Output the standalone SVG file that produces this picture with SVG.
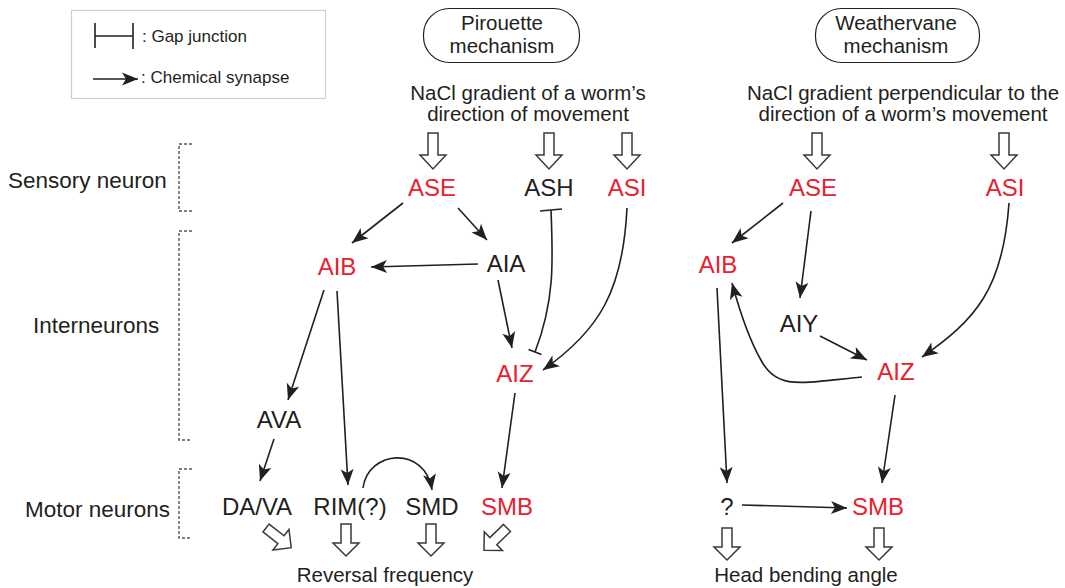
<svg xmlns="http://www.w3.org/2000/svg" width="1065" height="588" viewBox="0 0 1065 588">
<style>
text{font-family:"Liberation Sans",Arial,sans-serif;fill:#231f20}
.n{font-size:24px;text-anchor:middle}
.r{fill:#e8202f}
.m{font-size:20.5px;text-anchor:middle}
.lab{font-size:22.5px}
.lg{font-size:17px}
.c{fill:none;stroke:#231f20;stroke-width:1.6}
.ca{fill:none;stroke:#231f20;stroke-width:1.6;marker-end:url(#ah)}
.h{fill:#fff;stroke:#3a3a3a;stroke-width:1.5;stroke-linejoin:miter}
.br{fill:none;stroke:#555;stroke-width:1.4;stroke-dasharray:3 2}
</style>
<defs>
<marker id="ah" markerUnits="userSpaceOnUse" viewBox="-17 -8 18 16" refX="0" refY="0" markerWidth="18" markerHeight="16" orient="auto">
<path d="M0,0 L-16,-6.5 L-12,0 L-16,6.5 Z" fill="#231f20"/>
</marker>
<path id="ht" class="h" d="M-5,0 H5 V22 H13 L0,36 L-13,22 H-5 Z"/>
<path id="hb" class="h" d="M-5,0 H5 V19 H13 L0,32 L-13,19 H-5 Z"/>
</defs>

<g id="legend">
<rect x="71.5" y="10.5" width="254" height="88" fill="#fff" stroke="#cfcfcf" stroke-width="1.2"/>
<path d="M95,23 V48 M95,36 H133 M133,23 V49" class="c"/>
<text class="lg" x="142" y="42">: Gap junction</text>
<path d="M93,79 H138" class="ca"/>
<text class="lg" x="141" y="83">: Chemical synapse</text>
</g>

<g id="pirouette-title">
<rect x="423.5" y="8.5" width="156" height="54" rx="26" ry="26" fill="#fff" stroke="#231f20" stroke-width="1.2"/>
<text class="m" x="502" y="30">Pirouette</text>
<text class="m" x="502" y="53">mechanism</text>
</g>
<g id="weathervane-title">
<rect x="815.5" y="8.5" width="164" height="54" rx="26" ry="26" fill="#fff" stroke="#231f20" stroke-width="1.2"/>
<text class="m" x="896" y="30">Weathervane</text>
<text class="m" x="896" y="53">mechanism</text>
</g>

<g id="stim-left">
<text class="m" x="528" y="100">NaCl gradient of a worm’s</text>
<text class="m" x="528" y="121">direction of movement</text>
</g>
<g id="stim-right">
<text class="m" x="903" y="100">NaCl gradient perpendicular to the</text>
<text class="m" x="903" y="121">direction of a worm’s movement</text>
</g>

<g id="layer-labels">
<text class="lab" x="8" y="188">Sensory neuron</text>
<text class="lab" x="33" y="333">Interneurons</text>
<text class="lab" x="25" y="517">Motor neurons</text>
<path class="br" d="M192,144 H179 V211 H192"/>
<path class="br" d="M192,231 H179 V440 H192"/>
<path class="br" d="M192,469 H179 V538 H192"/>
</g>

<g id="hollow-arrows">
<use href="#ht" x="433" y="133"/>
<use href="#ht" x="549" y="133"/>
<use href="#ht" x="627" y="133"/>
<use href="#ht" x="817" y="133"/>
<use href="#ht" x="1004" y="133"/>
<use href="#hb" transform="translate(266,528) rotate(-52)"/>
<use href="#hb" x="346" y="524"/>
<use href="#hb" x="431" y="524"/>
<use href="#hb" transform="translate(507,528) rotate(46)"/>
<use href="#hb" x="727" y="528"/>
<use href="#hb" x="879" y="528"/>
</g>

<g id="node-ASE-L"><text class="n r" x="432" y="196">ASE</text></g>
<g id="node-ASH-L"><text class="n" x="549" y="196">ASH</text></g>
<g id="node-ASI-L"><text class="n r" x="627" y="196">ASI</text></g>
<g id="node-AIB-L"><text class="n r" x="337" y="275">AIB</text></g>
<g id="node-AIA-L"><text class="n" x="506" y="272">AIA</text></g>
<g id="node-AIZ-L"><text class="n r" x="515" y="382">AIZ</text></g>
<g id="node-AVA-L"><text class="n" x="279" y="428">AVA</text></g>
<g id="node-DAVA-L"><text class="n" x="257" y="515">DA/VA</text></g>
<g id="node-RIM-L"><text class="n" x="350" y="515">RIM(?)</text></g>
<g id="node-SMD-L"><text class="n" x="432" y="515">SMD</text></g>
<g id="node-SMB-L"><text class="n r" x="507" y="515">SMB</text></g>
<g id="out-L"><text class="m" x="385" y="582">Reversal frequency</text></g>

<g id="node-ASE-R"><text class="n r" x="813" y="196">ASE</text></g>
<g id="node-ASI-R"><text class="n r" x="1005" y="196">ASI</text></g>
<g id="node-AIB-R"><text class="n r" x="718" y="273">AIB</text></g>
<g id="node-AIY-R"><text class="n" x="799" y="332">AIY</text></g>
<g id="node-AIZ-R"><text class="n r" x="896" y="380">AIZ</text></g>
<g id="node-Q-R"><text class="n" x="727" y="515">?</text></g>
<g id="node-SMB-R"><text class="n r" x="878" y="515">SMB</text></g>
<g id="out-R"><text class="m" x="806" y="582">Head bending angle</text></g>

<g id="connectors">
<path class="ca" d="M403,203 L352,243"/>
<path class="ca" d="M458,208 L487,240"/>
<path class="ca" d="M478,264 L371,267"/>
<path class="ca" d="M498,280 L512,348"/>
<path class="c" d="M551,210 C553,260 555,300 535,352"/>
<path class="c" d="M540,211 L562,209 M528.5,349.5 L541.5,354.5"/>
<path class="ca" d="M627,208 C623,290 600,330 543,370"/>
<path class="ca" d="M324,290 L288,400"/>
<path class="ca" d="M337,291 L348,485"/>
<path class="ca" d="M515,393 L502,488"/>
<path class="ca" d="M274,439 L260,481"/>
<path class="ca" d="M363,488 C368,450 425,445 432,490"/>

<path class="ca" d="M783,203 L732,243"/>
<path class="ca" d="M811,211 L800,298"/>
<path class="ca" d="M1009,203 C1003,290 975,320 922,357"/>
<path class="ca" d="M820,336 L867,360"/>
<path class="ca" d="M862,377 C800,383 778,390 762,362 C748,338 738,305 732,283"/>
<path class="ca" d="M717,288 L727,483"/>
<path class="ca" d="M895,395 L882,483"/>
<path class="ca" d="M742,505 L847,508"/>
</g>
</svg>
